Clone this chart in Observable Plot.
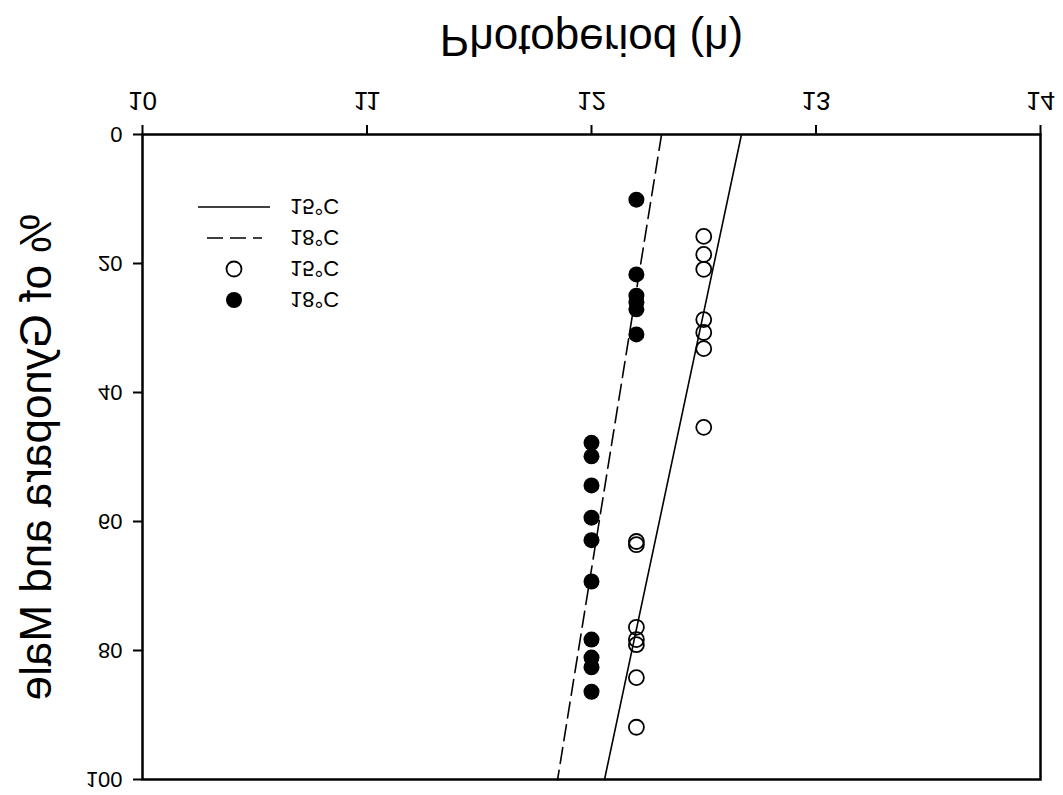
<!DOCTYPE html>
<html><head><meta charset="utf-8">
<script src="https://cdn.jsdelivr.net/npm/d3@7"></script>
<script src="https://cdn.jsdelivr.net/npm/@observablehq/plot@0.6"></script>
<style>
body{margin:0;background:#fff;}
#wrap{position:relative;width:1063px;height:795px;transform:scaleY(-1);transform-origin:50% 50%;font-family:"Liberation Sans",Arial,sans-serif;background:#fff;overflow:hidden;}
#wrap svg{display:block;}
#legend{position:absolute;left:0;top:0;pointer-events:none;}
</style></head>
<body><div id="wrap"></div>
<script>
// Axis labels and ticks
const xLabel = "Photoperiod (h)";
const yLabel = "% of Gynopara and Male";
const xTicks = [10, 11, 12, 13, 14];
const yTicks = [0, 20, 40, 60, 80, 100];

// Observed points, 15°C (open circles)
const photo15 = [12.5, 12.5, 12.5, 12.5, 12.5, 12.5, 12.5, 12.2, 12.2, 12.2, 12.2, 12.2, 12.2, 12.2];
const pct15   = [15.8, 18.6, 20.9, 28.7, 30.7, 33.2, 45.4, 63.1, 63.6, 76.4, 78.3, 79.1, 84.2, 91.9];

// Observed points, 18°C (filled circles)
const photo18 = [12.2, 12.2, 12.2, 12.2, 12.2, 12.2, 12.0, 12.0, 12.0, 12.0, 12.0, 12.0, 12.0, 12.0, 12.0, 12.0];
const pct18   = [10.1, 21.7, 25.0, 26.0, 27.1, 31.0, 47.8, 49.9, 54.4, 59.4, 62.9, 69.3, 78.3, 81.1, 82.6, 86.4];

// Fitted lines (photoperiod at 0 % and 100 %)
const fitPct = [0, 100];
const fit15 = [12.668, 12.058];
const fit18 = [12.312, 11.849];

// Legend
const legendLabels = ["15°C", "18°C", "15°C", "18°C"];

const pts15 = photo15.map((p, i) => ({x: p, y: pct15[i]}));
const pts18 = photo18.map((p, i) => ({x: p, y: pct18[i]}));
const line15 = fitPct.map((y, i) => ({x: fit15[i], y}));
const line18 = fitPct.map((y, i) => ({x: fit18[i], y}));

const chart = Plot.plot({
  width: 1063, height: 795,
  marginLeft: 142, marginRight: 23, marginTop: 15, marginBottom: 135,
  style: {fontFamily: "Liberation Sans, Arial, sans-serif", background: "white", color: "black"},
  x: {domain: [10, 14]},
  y: {domain: [0, 100]},
  marks: [
    Plot.axisX({ticks: xTicks, tickSize: 10, tickPadding: 14, fontSize: 26, label: null, tickFormat: d => String(d), strokeWidth: 2}),
    Plot.axisY({ticks: yTicks, tickSize: 9, tickPadding: 11, fontSize: 22, label: null, tickFormat: d => String(d), strokeWidth: 2}),
    Plot.line(line15, {x: "x", y: "y", stroke: "black", strokeWidth: 1.6}),
    Plot.line(line18, {x: "x", y: "y", stroke: "black", strokeWidth: 1.6, strokeDasharray: "16,7"}),
    Plot.dot(pts15, {x: "x", y: "y", r: 7.5, stroke: "black", strokeWidth: 1.8, fill: "none"}),
    Plot.dot(pts18, {x: "x", y: "y", r: 8, fill: "black"}),
    Plot.frame({stroke: "black", strokeWidth: 2.5}),
    Plot.text([xLabel], {text: d => d, frameAnchor: "bottom", dy: 110, lineAnchor: "bottom", fontSize: 44}),
    Plot.text([yLabel], {text: d => d, frameAnchor: "left", dx: -92, rotate: -90, lineAnchor: "bottom", textAnchor: "middle", fontSize: 44})
  ]
});
const wrap = document.getElementById("wrap");
wrap.appendChild(chart);

// Legend overlay (unflipped coordinates; whole figure is mirrored vertically)
const H = 795;
const leg = d3.select(wrap).append("svg").attr("id", "legend").attr("width", 1063).attr("height", H);
const rows = [207, 238, 269, 300].map(y => H - y);
leg.append("line").attr("x1", 198).attr("x2", 270).attr("y1", rows[0]).attr("y2", rows[0]).attr("stroke", "black").attr("stroke-width", 1.6);
leg.append("line").attr("x1", 207).attr("x2", 262).attr("y1", rows[1]).attr("y2", rows[1]).attr("stroke", "black").attr("stroke-width", 1.6).attr("stroke-dasharray", "16,7");
leg.append("circle").attr("cx", 234).attr("cy", rows[2]).attr("r", 7.5).attr("fill", "none").attr("stroke", "black").attr("stroke-width", 1.8);
leg.append("circle").attr("cx", 234).attr("cy", rows[3]).attr("r", 8).attr("fill", "black");
leg.selectAll("text.lab").data(legendLabels).join("text").attr("class", "lab")
  .attr("x", 290).attr("y", (d, i) => rows[i]).attr("dy", "0.35em")
  .attr("font-size", 22).attr("font-family", "Liberation Sans, Arial, sans-serif").text(d => d);
</script>
</body></html>
